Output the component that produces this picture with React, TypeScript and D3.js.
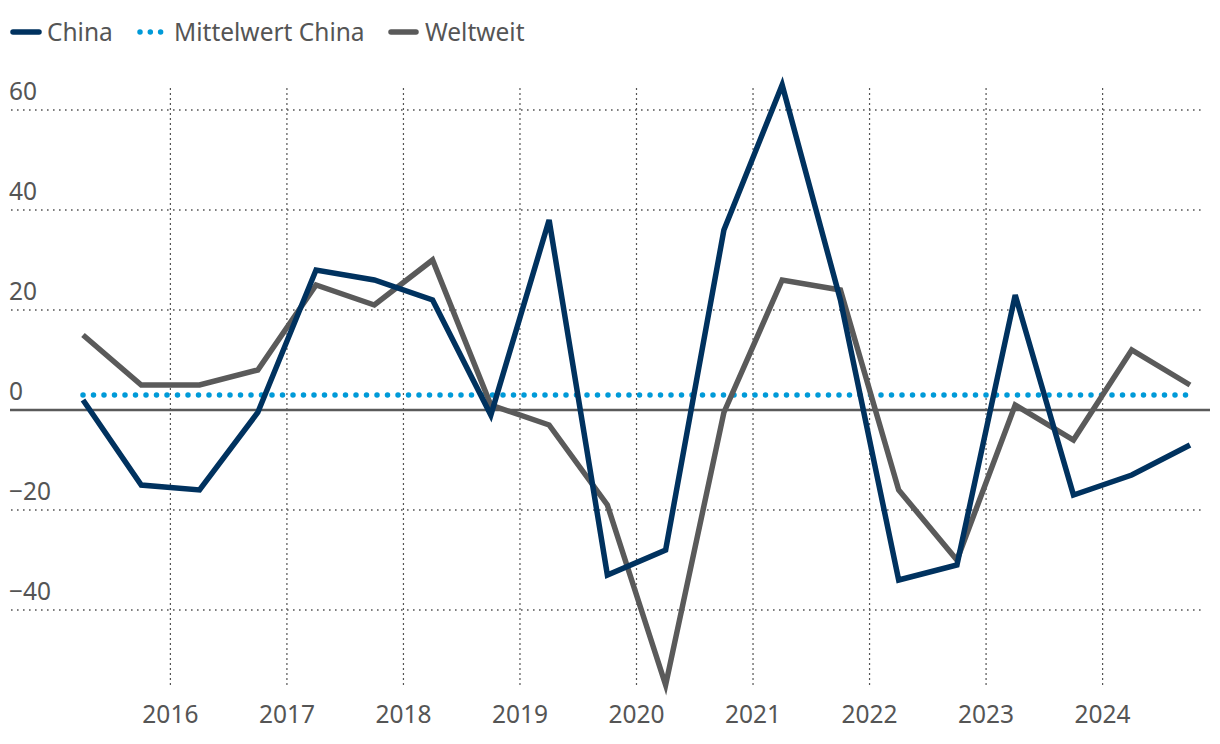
import React from 'react'
import * as d3 from 'd3'

const W = 1220
const H = 744

// half-year periods, plotted at the middle of each half
const periods = [
  '2015 H1', '2015 H2', '2016 H1', '2016 H2', '2017 H1', '2017 H2', '2018 H1', '2018 H2',
  '2019 H1', '2019 H2', '2020 H1', '2020 H2', '2021 H1', '2021 H2', '2022 H1', '2022 H2',
  '2023 H1', '2023 H2', '2024 H1', '2024 H2',
]
const china = [2, -15, -16, -0.5, 28, 26, 22, -1, 38, -33, -28, 36, 65, 22, -34, -31, 23, -17, -13, -7]
const weltweit = [15, 5, 5, 8, 25, 21, 30, 1, -3, -19, -55, -0.5, 26, 24, -16, -30, 1, -6, 12, 5]
const chinaMean = 3
const yearTicks = [2016, 2017, 2018, 2019, 2020, 2021, 2022, 2023, 2024]
const yTicks = [-40, -20, 0, 20, 40, 60]

const C_CHINA = '#00325f'
const C_WORLD = '#5a5a5a'
const C_MEAN = '#009ad8'
const C_TEXT = '#555555'
const FONT = '"Source Sans Pro", "Noto Sans", sans-serif'

const toYear = (p: string) => +p.slice(0, 4) + (p.endsWith('H1') ? 0.25 : 0.75)

export default function App() {
  const x = d3.scaleLinear().domain([2015.25, 2024.75]).range([83, 1190])
  const y = d3.scaleLinear().domain([-55, 65]).range([685, 85])

  const line = d3.line<number>()
    .x((_, i) => x(toYear(periods[i])))
    .y(d => y(d))

  const xs = periods.map(toYear)

  return (
    <svg width={W} height={H} style={{ position: 'absolute', left: 0, top: 0, fontFamily: FONT }}>
      {/* legend */}
      <g fill={C_TEXT} fontSize={24.5}>
        <line x1={13} x2={39} y1={32} y2={32} stroke={C_CHINA} strokeWidth={5.5} strokeLinecap="round" />
        <text x={47} y={41}>China</text>
        <line x1={140} x2={161} y1={32} y2={32} stroke={C_MEAN} strokeWidth={5.5}
          strokeLinecap="round" strokeDasharray="0,10.3" />
        <text x={174} y={41}>Mittelwert China</text>
        <line x1={391} x2={416} y1={32} y2={32} stroke={C_WORLD} strokeWidth={5.5} strokeLinecap="round" />
        <text x={425} y={41}>Weltweit</text>
      </g>

      {/* horizontal grid */}
      {yTicks.filter(t => t !== 0).map(t => (
        <line key={t} x1={11} x2={1202} y1={y(t)} y2={y(t)} stroke="#555" strokeWidth={1.6}
          strokeDasharray="1.6,4.4" />
      ))}
      {/* vertical grid */}
      {yearTicks.map(t => (
        <line key={t} x1={x(t)} x2={x(t)} y1={88} y2={688} stroke="#555" strokeWidth={1.2}
          strokeDasharray="2,3" />
      ))}

      {/* y labels */}
      {yTicks.map(t => (
        <text key={t} x={9} y={y(t) - 10} fill={C_TEXT} fontSize={24.5}>
          {t < 0 ? '\u2212' + Math.abs(t) : String(t)}
        </text>
      ))}

      {/* x labels */}
      {yearTicks.map(t => (
        <text key={t} x={x(t)} y={723} textAnchor="middle" fill={C_TEXT} fontSize={24.5}>{t}</text>
      ))}

      {/* zero line */}
      <line x1={10} x2={1210} y1={y(0)} y2={y(0)} stroke={C_WORLD} strokeWidth={2.5} />

      {/* mean */}
      <line x1={x(xs[0])} x2={x(xs[xs.length - 1])} y1={y(chinaMean)} y2={y(chinaMean)}
        stroke={C_MEAN} strokeWidth={5.5} strokeLinecap="round" strokeDasharray="0,10.5" />

      <path d={line(weltweit) ?? ''} fill="none" stroke={C_WORLD} strokeWidth={5.5} strokeLinejoin="miter" />
      <path d={line(china) ?? ''} fill="none" stroke={C_CHINA} strokeWidth={5.5} strokeLinejoin="miter" />
    </svg>
  )
}
